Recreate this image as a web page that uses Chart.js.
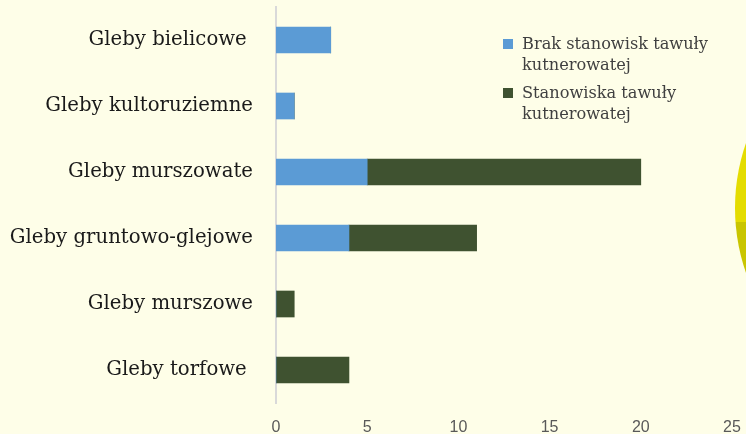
<!DOCTYPE html>
<html>
<head>
<meta charset="utf-8">
<script src="https://cdn.jsdelivr.net/npm/chart.js@4/dist/chart.umd.min.js"></script>
<style>
  html, body { margin: 0; padding: 0; background: #FEFEE8; overflow: hidden; }
  #wrap { position: relative; width: 746px; height: 434px; }
  #sun { position: absolute; left: 735px; top: 11px; width: 394px; height: 394px; border-radius: 50%;
         background: linear-gradient(to bottom, #E4DC00 0%, #E4DC00 53.6%, #C9C500 53.6%, #C9C500 100%); }
  #legend { position: absolute; left: 503px; top: 33px; font-family: "DejaVu Serif", serif; font-size: 16.2px; color: #404040; line-height: 21px; }
  .item { position: relative; padding-left: 19px; margin-bottom: 7px; }
  .box { position: absolute; left: 0; top: 6px; width: 10px; height: 10px; }
</style>
</head>
<body>
<div id="wrap">
  <div id="sun"></div>
  <canvas id="c" width="746" height="434"></canvas>
  <div id="legend"></div>
</div>
<script>
var kategorie = ['Gleby bielicowe ', 'Gleby kultoruziemne', 'Gleby murszowate', 'Gleby gruntowo-glejowe', 'Gleby murszowe', 'Gleby torfowe '];
var brakStanowisk = [3, 1, 5, 4, 0, 0];
var stanowiska = [0, 0, 15, 7, 1, 4];
var etykiety = ['Brak stanowisk tawuły<br>kutnerowatej', 'Stanowiska tawuły<br>kutnerowatej'];
var kolory = ['#5B9BD5', '#3F5230'];

function drawGraph(canvasId){
	new Chart(document.getElementById(canvasId), {
		type: 'bar',
		data: {
			labels: kategorie,
			datasets: [
				{ label: 'Brak stanowisk tawuły kutnerowatej', data: brakStanowisk, backgroundColor: kolory[0], barThickness: 26 },
				{ label: 'Stanowiska tawuły kutnerowatej', data: stanowiska, backgroundColor: kolory[1], barThickness: 26 }
			]
		},
		options: {
			indexAxis: 'y',
			responsive: false,
			animation: false,
			layout: { padding: { top: 7, right: 14, left: 0, bottom: 0 } },
			plugins: { legend: { display: false }, tooltip: { enabled: false } },
			scales: {
				x: {
					stacked: true, min: 0, max: 25,
					ticks: { stepSize: 5, color: '#595959', font: { family: 'Liberation Sans', size: 16 }, padding: 15 },
					grid: { display: false, drawTicks: false },
					border: { display: false },
					afterFit: function(s){ s.height = 31; s.paddingLeft = 0; s.paddingRight = 0; }
				},
				y: {
					stacked: true,
					ticks: { color: '#1a1a1a', font: { family: 'DejaVu Serif', size: 19.7 }, padding: 23 },
					grid: { display: false, drawTicks: false },
					border: { display: true, color: '#D9D9D9', width: 2 },
					afterFit: function(s){ s.width = 276; s.paddingTop = 0; s.paddingBottom = 0; }
				}
			}
		}
	});
}

drawGraph('c');

var leg = document.getElementById('legend');
for (var i = 0; i < etykiety.length; i++) {
	leg.innerHTML += '<div class="item"><span class="box" style="background:' + kolory[i] + '"></span>' + etykiety[i] + '</div>';
}
</script>
</body>
</html>
